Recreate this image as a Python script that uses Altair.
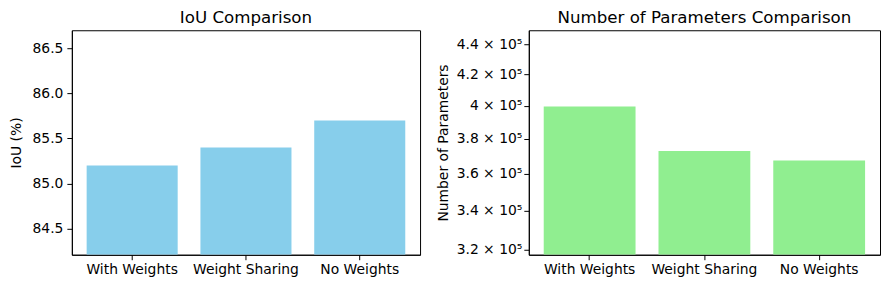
import altair as alt
import pandas as pd

methods = ["With Weights", "Weight Sharing", "No Weights"]
iou = [85.2, 85.4, 85.7]
params = [399500, 373000, 367500]
iou_ticks = [84.5, 85.0, 85.5, 86.0, 86.5]
param_ticks = [320000, 340000, 360000, 380000, 400000, 420000, 440000]

df = pd.DataFrame({"method": methods, "iou": iou, "params": params})

FONT = "DejaVu Sans"
H = 225
FS = 13.9
PMIN, PMAX = 317600, 449600

xenc = alt.X("method:N", sort=methods, title=None,
             scale=alt.Scale(paddingInner=0.2, paddingOuter=0.13),
             axis=alt.Axis(labelAngle=0, labelFontSize=FS, labelColor="black",
                           tickColor="black", domainColor="black", tickSize=5,
                           labelPadding=3))

left = alt.Chart(df).mark_bar(color="#87CEEB", clip=True).encode(
    x=xenc,
    y=alt.Y("iou:Q", title="IoU (%)",
            scale=alt.Scale(domain=[84.21, 86.7], nice=False, zero=False),
            axis=alt.Axis(values=iou_ticks, format=".1f", labelFontSize=FS,
                          titleFontSize=FS, titleFontWeight="normal",
                          labelColor="black", titleColor="black", tickColor="black",
                          domainColor="black", tickSize=5, grid=False,
                          labelPadding=4, titlePadding=9)),
    y2=alt.Y2(datum=84.21),
).properties(width=349, height=H, title="IoU Comparison")

right = alt.Chart(df).mark_bar(color="#90EE90", clip=True).encode(
    x=xenc,
    y=alt.Y("params:Q", title="Number of Parameters",
            scale=alt.Scale(type="log", domain=[PMIN, PMAX], nice=False, zero=False),
            axis=alt.Axis(values=param_ticks,
                          labelExpr="format(datum.value/100000, '') + ' × 10⁵'",
                          labelFontSize=FS, titleFontSize=FS, titleFontWeight="normal",
                          labelColor="black", titleColor="black", tickColor="black",
                          domainColor="black", tickSize=5, grid=False, titlePadding=6)),
    y2=alt.Y2(datum=PMIN),
).properties(width=352, height=H, title="Number of Parameters Comparison")

chart = alt.hconcat(left, right, spacing=14).configure(
    font=FONT, padding=0
).configure_view(
    stroke="black", strokeWidth=1
).configure_title(
    fontSize=16.7, fontWeight="normal", color="black", offset=4
).configure_axis(
    labelFont=FONT, titleFont=FONT
)

chart.save("out.html", embed_options={"renderer": "svg", "actions": False})
